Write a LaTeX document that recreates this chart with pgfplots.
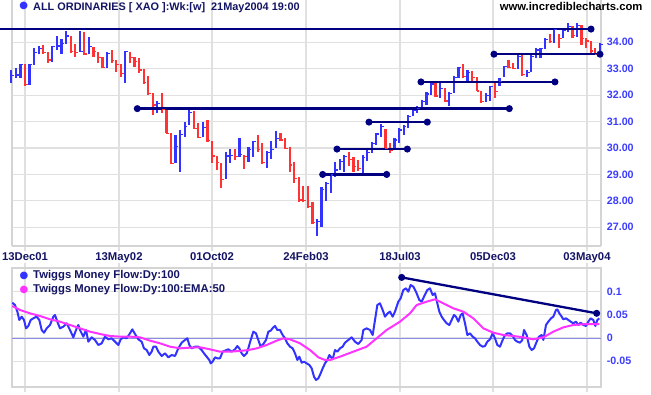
\documentclass[border=0pt]{standalone}
\usepackage{pgfplots}
\pgfplotsset{compat=1.18}
\usepackage{pgfplotstable}
\usepackage{fontspec}
\setmainfont{Liberation Sans}
\newfontfamily\dejavu{DejaVu Sans}

\definecolor{barblue}{RGB}{51,51,255}
\definecolor{barred}{RGB}{255,51,51}
\definecolor{navy}{RGB}{0,0,128}
\definecolor{txtnavy}{RGB}{20,20,100}
\definecolor{tickblue}{RGB}{60,60,255}
\definecolor{gridgray}{RGB}{224,224,224}
\definecolor{framegray}{RGB}{212,212,212}
\definecolor{zeroline}{RGB}{140,140,230}
\definecolor{tmfmag}{RGB}{255,51,255}

\pgfdeclareplotmark{ctick}{\pgfpathmoveto{\pgfpoint{0pt}{0pt}}\pgfpathlineto{\pgfpoint{2.8bp}{0pt}}\pgfusepathqstroke}

\begin{document}
% weekly bars: index, high, low, close
\pgfplotstableread{
i h l c
0 32.95 32.47 32.73
1 33.04 32.64 32.76
2 33.18 32.64 33.17
4 33.18 32.37 33.17
5 33.79 33.14 33.62
6 33.85 33.55 33.75
9 33.86 33.27 33.84
10 34.24 33.71 33.86
11 34.11 33.55 33.94
12 34.43 33.94 34.24
15 34.43 33.62 33.66
17 34.19 33.55 33.84
21 33.62 33.04 33.58
25 33.67 32.47 33.65
32 31.79 31.31 31.67
36 30.49 29.42 30.05
37 30.68 29.11 30.52
38 31.00 30.40 30.81
39 31.50 30.87 31.34
42 30.97 30.40 30.77
47 29.84 28.82 29.70
48 29.96 29.45 29.72
50 30.37 29.65 29.74
52 30.05 29.46 29.93
53 30.28 29.65 30.24
56 29.89 29.23 29.82
57 30.28 29.57 29.93
58 30.64 29.99 30.37
67 27.30 26.67 27.21
68 28.54 27.03 28.44
69 28.73 28.01 28.66
70 29.02 28.31 28.98
71 29.48 28.92 29.17
72 29.60 29.15 29.50
73 29.74 29.11 29.67
77 29.74 28.98 29.65
78 29.93 29.52 29.82
79 30.24 29.80 30.18
80 30.56 30.11 30.53
81 30.90 30.43 30.80
84 30.37 29.95 30.30
85 30.75 30.20 30.68
86 30.87 30.49 30.81
87 31.25 30.75 31.19
88 31.46 31.21 31.41
89 31.59 31.34 31.50
90 31.82 31.44 31.75
91 32.13 31.63 32.04
92 32.51 32.01 32.42
94 32.51 31.88 32.26
96 32.11 31.60 32.07
97 32.73 32.07 32.66
98 33.08 32.64 33.04
100 32.95 32.51 32.86
104 32.07 31.73 31.98
105 32.35 31.78 32.32
107 32.66 32.36 32.51
108 33.10 32.70 33.08
111 33.55 32.99 33.45
113 32.95 32.70 32.86
114 33.52 32.86 33.46
115 33.77 33.39 33.71
116 33.78 33.40 33.75
117 34.15 33.73 34.12
119 34.50 33.96 34.47
121 34.50 34.15 34.44
122 34.72 34.40 34.59
124 34.72 34.21 34.65
129 33.96 33.52 33.92
}\upbars
\pgfplotstableread{
i h l c
3 33.17 32.36 32.39
7 33.90 33.55 33.62
8 33.65 33.23 33.33
13 34.24 33.62 33.65
14 33.94 33.43 33.62
16 34.38 33.55 33.56
18 33.84 33.46 33.65
19 33.65 33.21 33.43
20 33.43 33.04 33.05
22 33.71 33.23 33.31
23 33.33 32.89 33.17
24 33.17 32.70 32.83
26 33.65 33.23 33.43
27 33.46 33.08 33.27
28 33.42 32.83 32.95
29 32.98 32.45 32.47
30 32.73 32.01 32.07
31 32.07 31.25 31.63
33 32.07 31.34 31.46
34 31.50 30.56 30.56
35 30.56 29.38 29.42
40 31.40 30.71 30.75
41 30.93 30.37 30.40
43 31.06 30.24 30.28
44 30.28 29.45 29.70
45 29.70 29.17 29.45
46 29.45 28.48 28.82
49 29.95 29.55 29.67
51 29.74 29.19 29.67
54 30.49 29.84 29.93
55 30.18 29.42 29.45
59 30.56 30.28 30.30
60 30.37 29.95 29.99
61 30.03 29.11 29.36
62 29.48 28.67 28.85
63 28.92 27.97 28.03
64 28.58 27.97 28.02
65 28.56 27.76 27.78
66 27.97 27.15 27.18
74 29.84 29.32 29.57
75 29.67 29.11 29.29
76 29.55 29.14 29.23
82 30.71 29.95 29.99
83 30.20 29.80 29.90
93 32.51 31.94 31.97
95 32.26 31.73 31.78
99 33.18 32.64 32.70
101 32.91 32.51 32.67
102 32.67 32.16 32.16
103 32.16 31.73 31.75
106 32.45 31.91 32.13
109 33.33 33.02 33.06
110 33.20 32.99 33.02
112 33.58 32.74 32.79
118 34.30 33.96 34.02
120 34.31 33.77 34.15
123 34.63 34.18 34.25
125 34.65 33.90 34.15
126 34.15 33.77 34.05
127 34.05 33.52 33.67
128 33.77 33.52 33.55
}\downbars
% Twiggs Money Flow (daily, sampled)
\pgfplotstableread{
x v
0.22 0.0758
0.80 0.0708
1.32 0.0565
1.75 0.0386
2.27 0.0458
2.78 0.0386
3.22 0.0207
3.73 0.0258
4.24 0.0386
4.82 0.0422
5.55 0.0458
6.14 0.0386
6.65 0.0172
7.16 0.0114
7.75 0.0207
8.48 0.0279
9.21 0.0458
9.57 0.0494
10.08 0.0351
10.67 0.0207
11.40 0.0243
12.13 0.0315
12.86 0.0172
13.59 0.0014
14.32 0.0207
14.69 0.0279
15.05 0.0172
15.78 0.0029
16.37 0.0172
16.88 -0.0079
17.61 0.0014
18.34 -0.0043
19.07 -0.0150
19.80 -0.0114
20.53 0.0029
21.27 -0.0029
22.00 -0.0007
22.73 -0.0079
23.46 -0.0150
23.97 -0.0029
24.55 0.0014
25.28 -0.0007
26.01 0.0100
26.52 0.0186
27.11 0.0086
27.84 -0.0029
28.57 -0.0079
29.08 -0.0222
29.67 -0.0258
30.25 -0.0365
30.76 -0.0293
31.13 -0.0186
31.71 -0.0186
32.22 -0.0293
32.96 -0.0386
33.69 -0.0329
34.42 -0.0415
35.15 -0.0365
35.88 -0.0386
36.61 -0.0222
37.34 -0.0100
38.07 -0.0043
38.58 -0.0007
39.02 -0.0150
39.53 -0.0222
40.26 -0.0186
40.99 -0.0186
41.72 -0.0258
42.23 -0.0329
42.82 -0.0401
43.40 -0.0472
43.70 -0.0544
44.13 -0.0508
44.65 -0.0415
45.16 -0.0436
45.74 -0.0436
46.33 -0.0293
46.84 -0.0272
47.57 -0.0243
48.30 -0.0293
49.03 -0.0243
49.54 -0.0172
49.98 -0.0222
50.49 -0.0329
51.00 -0.0386
51.59 -0.0329
51.95 -0.0222
52.47 -0.0043
53.05 0.0136
53.63 0.0100
54.14 -0.0043
54.66 -0.0186
55.24 -0.0129
55.82 -0.0043
56.34 0.0136
56.85 0.0157
57.43 0.0229
57.80 0.0258
58.31 0.0172
58.89 0.0172
59.48 0.0064
59.99 -0.0007
60.50 -0.0114
61.09 -0.0186
61.67 -0.0222
62.18 -0.0329
62.70 -0.0472
63.13 -0.0401
63.65 -0.0529
64.16 -0.0508
64.74 -0.0544
65.33 -0.0579
65.84 -0.0651
66.35 -0.0830
66.79 -0.0901
67.30 -0.0866
67.81 -0.0758
68.25 -0.0651
68.76 -0.0544
69.27 -0.0472
69.71 -0.0365
70.44 -0.0458
70.95 -0.0258
71.46 -0.0293
72.04 -0.0222
72.63 -0.0186
73.14 -0.0100
73.87 -0.0043
74.60 0.0014
75.33 -0.0079
76.06 -0.0129
76.79 -0.0043
77.16 0.0172
77.89 0.0207
78.62 0.0172
79.21 0.0064
79.72 0.0386
80.23 0.0708
80.81 0.0744
81.40 0.0601
81.91 0.0458
82.49 0.0529
83.00 0.0565
83.59 0.0458
84.10 0.0565
84.83 0.0780
85.34 0.0851
85.93 0.1030
86.51 0.1066
87.02 0.0994
87.53 0.1137
88.12 0.1102
88.70 0.0994
89.43 0.0815
89.95 0.0780
90.46 0.0887
91.19 0.1030
91.77 0.1066
92.36 0.0923
92.87 0.0959
93.38 0.0744
93.82 0.0565
94.33 0.0458
94.84 0.0386
95.43 0.0315
96.01 0.0279
96.52 0.0386
97.03 0.0494
97.47 0.0458
97.98 0.0351
98.50 0.0494
98.93 0.0529
99.45 0.0315
99.96 0.0064
100.54 0.0100
101.13 0.0029
101.64 -0.0007
102.15 -0.0079
102.73 -0.0150
103.32 -0.0186
103.83 -0.0172
104.34 -0.0079
104.93 -0.0029
105.51 0.0100
106.02 -0.0007
106.53 -0.0150
107.12 -0.0186
107.70 -0.0043
108.21 0.0064
108.73 0.0100
109.31 0.0100
109.89 0.0043
110.41 -0.0043
110.92 -0.0079
111.50 -0.0100
112.01 -0.0043
112.38 0.0172
112.96 0.0064
113.55 -0.0186
114.06 -0.0258
114.57 -0.0222
115.16 -0.0079
115.67 0.0029
116.25 0.0064
116.62 -0.0043
117.20 0.0279
117.71 0.0351
118.30 0.0422
118.81 0.0458
119.39 0.0601
119.69 0.0615
120.12 0.0529
120.64 0.0458
121.00 0.0401
121.59 0.0422
122.10 0.0386
122.61 0.0351
123.19 0.0315
123.78 0.0351
124.29 0.0279
124.80 0.0329
125.39 0.0279
125.97 0.0258
126.48 0.0351
126.99 0.0422
127.58 0.0386
128.02 0.0258
128.45 0.0386
128.89 0.0422
}\tmf
\pgfplotstableread{
x v
0.22 0.0687
1.90 0.0601
4.09 0.0529
6.28 0.0472
8.48 0.0401
10.67 0.0351
12.86 0.0279
15.05 0.0207
17.24 0.0136
19.44 0.0086
21.63 0.0043
23.82 0.0029
26.01 0.0029
28.21 0.0014
30.40 -0.0057
32.59 -0.0114
34.78 -0.0186
36.97 -0.0222
39.17 -0.0207
41.36 -0.0200
43.55 -0.0243
45.74 -0.0293
47.93 -0.0293
50.13 -0.0279
51.95 -0.0258
53.78 -0.0222
55.97 -0.0150
58.16 -0.0057
59.63 -0.0007
61.09 -0.0029
63.28 -0.0114
65.47 -0.0258
67.30 -0.0415
68.76 -0.0472
69.85 -0.0472
72.04 -0.0401
74.97 -0.0293
77.89 -0.0186
80.08 -0.0007
82.27 0.0172
85.20 0.0351
87.39 0.0529
88.85 0.0708
91.04 0.0780
92.87 0.0830
94.70 0.0744
96.89 0.0637
99.08 0.0565
101.27 0.0422
103.46 0.0207
105.66 0.0114
107.85 0.0064
110.04 0.0043
112.23 0.0014
114.42 -0.0029
116.62 0.0014
118.81 0.0136
121.00 0.0229
123.19 0.0279
126.12 0.0300
128.89 0.0300
}\ema

\begin{tikzpicture}
\path[use as bounding box] (0bp,0bp) rectangle (651bp,395bp);

% ---------- price panel ----------
\begin{axis}[
  at={(12bp,149bp)}, anchor=south west,
  scale only axis, width=589bp, height=246bp,
  xmin=0.147, xmax=129.26, ymin=26.293, ymax=35.60,
  axis line style={draw=none},
  clip=false,
  xtick={3.00,23.60,43.99,64.59,85.20,105.58,126.19},
  xticklabels={13Dec01,13May02,01Oct02,24Feb03,18Jul03,05Dec03,03May04},
  ytick={27,28,29,30,31,32,33,34},
  yticklabels={27.00,28.00,29.00,30.00,31.00,32.00,33.00,34.00},
  yticklabel pos=right,
  grid=major, major grid style={gridgray, line width=1.2bp},
  tick align=outside, major tick length=5bp,
  xtick style={gridgray, line width=1.2bp},
  ytick style={draw=none},
  xticklabel style={font=\fontsize{11.3bp}{13bp}\selectfont\bfseries, text=txtnavy, anchor=north, inner sep=0pt, yshift=-1.5bp},
  yticklabel style={font=\fontsize{10.7bp}{12bp}\selectfont\bfseries, text=tickblue, anchor=west, inner sep=0pt, xshift=0.7bp},
]
\draw[framegray, line width=1.2bp] (rel axis cs:0,1) -- (rel axis cs:0,0);
\draw[framegray, line width=2.5bp] (rel axis cs:0,0) -- (rel axis cs:1,0);
\draw[framegray, line width=1.2bp] (rel axis cs:1,0) -- (rel axis cs:1,1);

\addplot[only marks, mark=ctick, mark options={barblue, line width=1.2bp},
  error bars/.cd, y dir=both, y explicit, error mark=none,
  error bar style={barblue, line width=2.2bp}]
  table[x=i, y=c, y error plus expr=\thisrow{h}-\thisrow{c}, y error minus expr=\thisrow{c}-\thisrow{l}] {\upbars};
\addplot[only marks, mark=ctick, mark options={barred, line width=1.2bp},
  error bars/.cd, y dir=both, y explicit, error mark=none,
  error bar style={barred, line width=2.2bp}]
  table[x=i, y=c, y error plus expr=\thisrow{h}-\thisrow{c}, y error minus expr=\thisrow{c}-\thisrow{l}] {\downbars};

\addplot[navy, line width=2.3bp, mark=*, mark size=2.3bp, mark options={navy}, mark indices={2}] coordinates {(-2.48,34.50) (127.07,34.50)};
\addplot[navy, line width=2.3bp, mark=*, mark size=2.3bp, mark options={navy}] coordinates {(105.80,33.55) (129.04,33.55)};
\addplot[navy, line width=2.3bp, mark=*, mark size=2.3bp, mark options={navy}] coordinates {(89.80,32.50) (119.17,32.50)};
\addplot[navy, line width=2.3bp, mark=*, mark size=2.3bp, mark options={navy}] coordinates {(27.61,31.49) (109.16,31.49)};
\addplot[navy, line width=2.3bp, mark=*, mark size=2.3bp, mark options={navy}] coordinates {(78.40,30.98) (91.18,30.98)};
\addplot[navy, line width=2.3bp, mark=*, mark size=2.3bp, mark options={navy}] coordinates {(71.39,29.96) (86.80,29.96)};
\addplot[navy, line width=2.3bp, mark=*, mark size=2.3bp, mark options={navy}] coordinates {(68.25,29.00) (82.28,29.00)};
\end{axis}

% ---------- money flow panel ----------
\begin{axis}[
  at={(12bp,8bp)}, anchor=south west,
  scale only axis, width=589bp, height=119bp,
  xmin=0.147, xmax=129.26, ymin=-0.10515, ymax=0.15021,
  axis line style={draw=none},
  clip=false,
  xtick={3.00,23.60,43.99,64.59,85.20,105.58,126.19},
  xticklabels={},
  ytick={-0.05,0,0.05,0.1},
  yticklabels={-0.05,0,0.05,0.1},
  yticklabel pos=right,
  grid=major, major grid style={gridgray, line width=1.2bp},
  tick align=outside, major tick length=5bp,
  xtick style={gridgray, line width=1.2bp},
  ytick style={draw=none},
  yticklabel style={font=\fontsize{10.7bp}{12bp}\selectfont\bfseries, text=tickblue, anchor=west, inner sep=0pt, xshift=0.7bp},
]
\draw[framegray, line width=1.2bp] (rel axis cs:0,0) rectangle (rel axis cs:1,1);
\addplot[zeroline, line width=0.8bp] coordinates {(0.147,0) (129.26,0)};
\addplot[barblue, line width=2bp, line join=round] table[x=x, y=v] {\tmf};
\addplot[tmfmag, line width=2bp, line join=round] table[x=x, y=v] {\ema};
\addplot[navy, line width=2.3bp, mark=*, mark size=2.3bp, mark options={navy}] coordinates {(85.57,0.130) (128.31,0.053)};
\end{axis}

% ---------- titles and legend ----------
\node[text=barblue, font=\dejavu\fontsize{10bp}{10bp}\selectfont, inner sep=0pt] at (23.7bp,388.7bp) {●};
\node[anchor=base west, inner sep=0pt, text=txtnavy, font=\fontsize{10.9bp}{13bp}\selectfont\bfseries] at (33bp,384.2bp) {ALL ORDINARIES [ XAO ]:Wk:[w]\hspace{3bp} 21May2004 19:00};
\node[anchor=base east, inner sep=0pt, text=black, font=\fontsize{11.3bp}{13bp}\selectfont\bfseries] at (642.7bp,384bp) {www.incrediblecharts.com};

\node[text=barblue, font=\dejavu\fontsize{10bp}{10bp}\selectfont, inner sep=0pt] at (24bp,119.5bp) {●};
\node[anchor=base west, inner sep=0pt, text=txtnavy, font=\fontsize{11.3bp}{13bp}\selectfont\bfseries] at (33bp,116bp) {Twiggs Money Flow:Dy:100};
\node[text=tmfmag, font=\dejavu\fontsize{10bp}{10bp}\selectfont, inner sep=0pt] at (24bp,105bp) {●};
\node[anchor=base west, inner sep=0pt, text=txtnavy, font=\fontsize{11.3bp}{13bp}\selectfont\bfseries] at (33bp,102bp) {Twiggs Money Flow:Dy:100:EMA:50};
\end{tikzpicture}
\end{document}
